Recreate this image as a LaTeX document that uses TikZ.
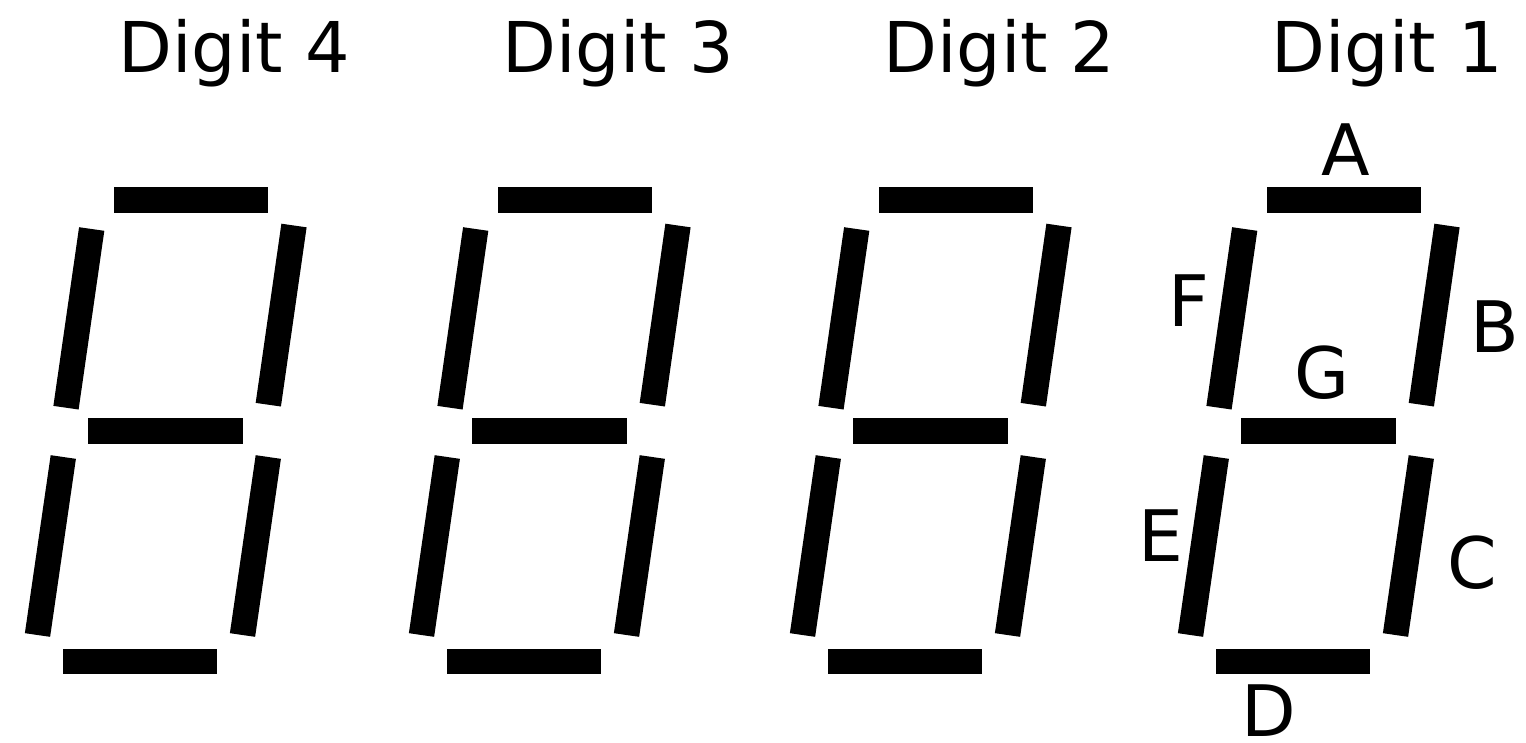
\documentclass[tikz,border=0pt]{standalone}
\usepackage{fontspec}
\setmainfont{DejaVu Sans}
\usepackage{tikz}

\begin{document}
\begin{tikzpicture}[
        x=1pt, y=-1pt,
        segment/.style={line width=25.5pt, line cap=butt, black},
        heading/.style={anchor=base, inner sep=0pt, font=\fontsize{70}{84}\selectfont},
        seglabel/.style={anchor=base, inner sep=0pt, font=\fontsize{71}{85}\selectfont}
    ]
        \useasboundingbox (0,0) rectangle (1526,742);
        % one seven-segment digit per step
        \foreach \n/\dx in {4/0, 3/384, 2/765, 1/1153} {
            \begin{scope}[xshift=\dx pt]
                \node[heading] (title\n) at (234,72) {Digit \n};
                \draw[segment] (114,200) -- (268,200);       % A
                \draw[segment] (294,225.5) -- (268.3,404.7); % B
                \draw[segment] (268.3,457) -- (242.5,635);   % C
                \draw[segment] (63,661.5) -- (217,661.5);    % D
                \draw[segment] (63.3,457) -- (37.5,635);     % E
                \draw[segment] (91.7,229) -- (66,407.7);     % F
                \draw[segment] (88,431) -- (243,431);        % G
            \end{scope}
        }
        % segment names on digit 1
        \begin{scope}[xshift=1153pt]
            \node[seglabel] (labA) at (193,175) {A};
            \node[seglabel] (labB) at (342,352) {B};
            \node[seglabel] (labC) at (319,588) {C};
            \node[seglabel] (labD) at (116,736) {D};
            \node[seglabel] (labE) at (8,561) {E};
            \node[seglabel] (labF) at (36,326) {F};
            \node[seglabel] (labG) at (169,398) {G};
        \end{scope}
    \end{tikzpicture}
\end{document}
